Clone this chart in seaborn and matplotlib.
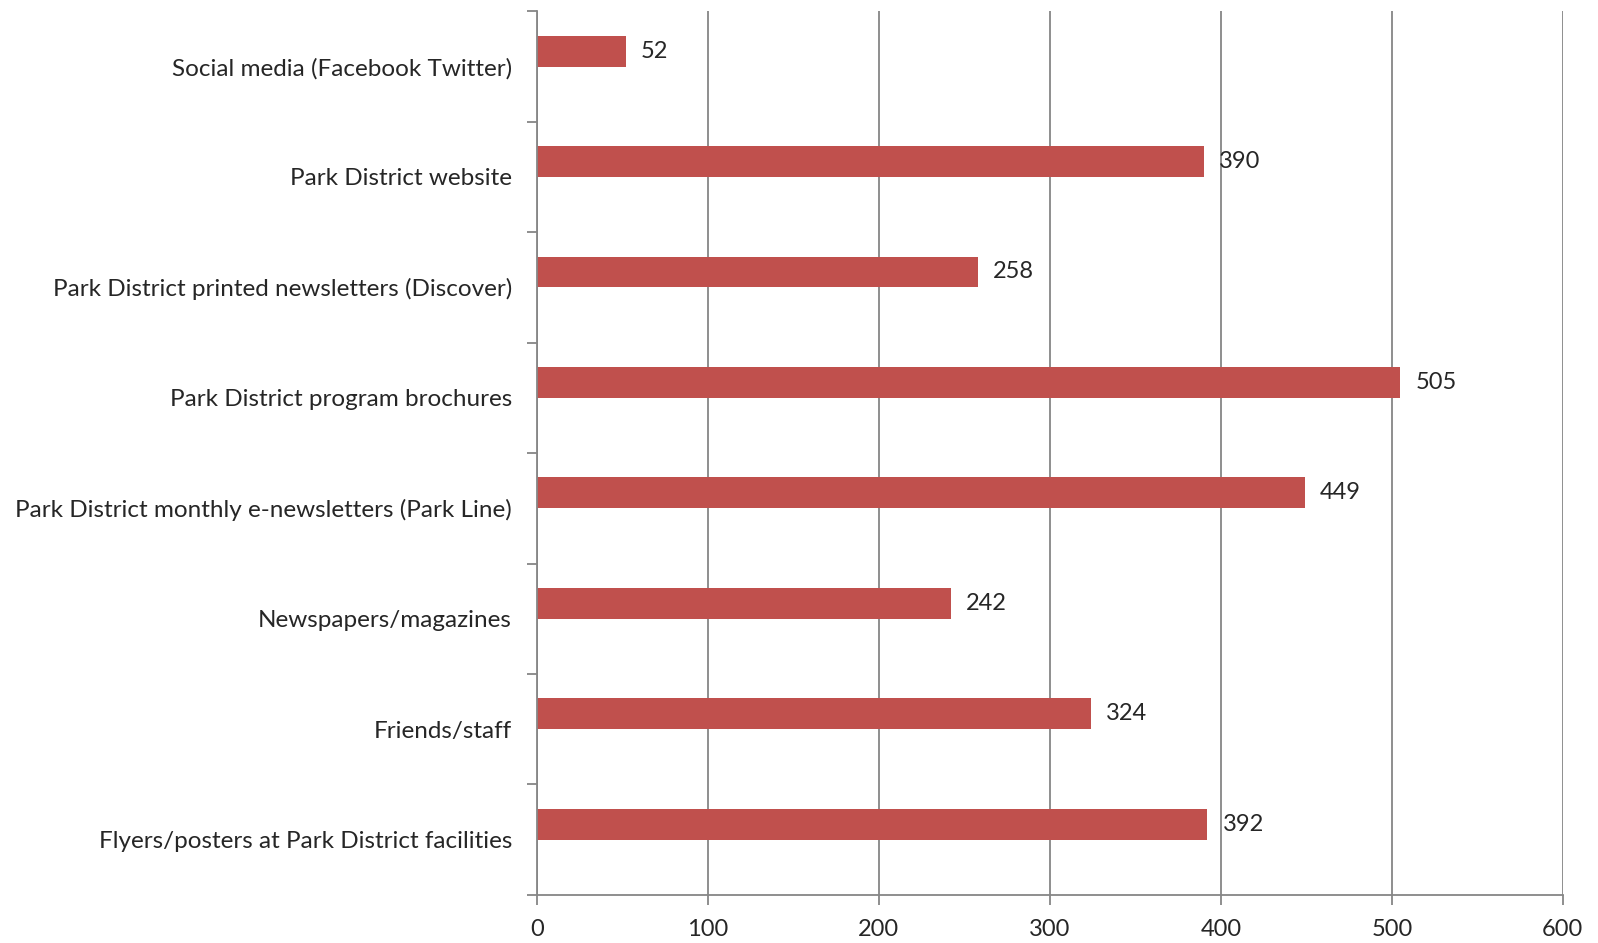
import pandas as pd
import matplotlib.pyplot as plt
import seaborn as sns
from matplotlib.ticker import MultipleLocator, NullFormatter

# Datos del gráfico
categorias = [
    'Social media (Facebook Twitter)',
    'Park District website',
    'Park District printed newsletters (Discover)',
    'Park District program brochures',
    'Park District monthly e-newsletters (Park Line)',
    'Newspapers/magazines',
    'Friends/staff',
    'Flyers/posters at Park District facilities',
]
respuestas = [52, 390, 258, 505, 449, 242, 324, 392]
# segunda serie vacía (como en el gráfico original de Excel)
vacia = [0] * len(categorias)

df = pd.DataFrame({
    'categoria': categorias * 2,
    'valor': respuestas + vacia,
    'serie': ['Respuestas'] * len(categorias) + ['vacia'] * len(categorias),
})

sns.set_style('white')
plt.rcParams['font.family'] = ['Lato', 'DejaVu Sans']

gris = '#868686'
fig = plt.figure(figsize=(15.98, 9.43), dpi=100)
ax = fig.add_axes([0.336, 0.051, 0.642, 0.937])

sns.barplot(x='valor', y='categoria', hue='serie', data=df, order=categorias,
            hue_order=['Respuestas', 'vacia'], width=0.56,
            palette=['#C0504D', '#C0504D'], saturation=1, linewidth=0,
            legend=False, ax=ax)

ax.bar_label(ax.containers[0], fmt='%d', padding=11, fontsize=17)

ax.set_xlim(0, 600)
ax.set_ylim(len(categorias) - 0.5, -0.5)
ax.xaxis.set_major_locator(MultipleLocator(100))
ax.grid(axis='x', color=gris, linewidth=1.3)
ax.set_axisbelow(True)

# marcas del eje y en los límites de cada categoría
ax.set_yticks(range(len(categorias)))
ax.set_yticklabels(categorias, fontsize=17.5)
ax.tick_params(axis='y', which='major', length=0, pad=18)
ax.set_yticks([i - 0.5 for i in range(len(categorias) + 1)], minor=True)
ax.yaxis.set_minor_formatter(NullFormatter())
ax.tick_params(axis='y', which='minor', length=7, color=gris, width=1.3, left=True)
ax.tick_params(axis='x', length=7, color=gris, width=1.3, labelsize=17, pad=10, bottom=True)

for lado in ['top', 'right']:
    ax.spines[lado].set_visible(False)
for lado in ['left', 'bottom']:
    ax.spines[lado].set_color(gris)
    ax.spines[lado].set_linewidth(1.3)

ax.set_xlabel('')
ax.set_ylabel('')

plt.savefig('out.png', dpi=100)
